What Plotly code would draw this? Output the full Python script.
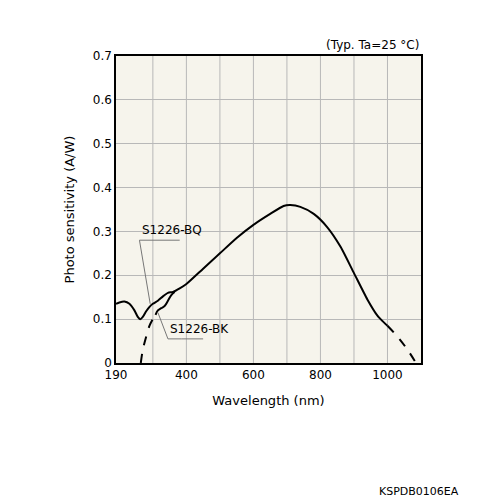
import plotly.graph_objects as go

# S1226-BQ (solid)
bq_x = [190, 200, 215, 230, 245, 255, 262, 270, 280, 290, 300, 315, 330, 345, 360, 380, 400, 450, 500, 550, 600, 650, 690, 710, 740, 780, 820, 860, 900, 940, 970, 990, 1000]
bq_y = [0.135, 0.138, 0.14, 0.135, 0.12, 0.105, 0.10, 0.105, 0.118, 0.128, 0.135, 0.142, 0.152, 0.16, 0.162, 0.17, 0.18, 0.215, 0.25, 0.285, 0.315, 0.34, 0.358, 0.36, 0.356, 0.34, 0.31, 0.265, 0.205, 0.145, 0.108, 0.092, 0.085]
# dashed tail
tail_x = [1000, 1030, 1060, 1085]
tail_y = [0.085, 0.06, 0.03, 0.0]
# S1226-BK
bk_dash_x = [264, 270, 280, 290, 300, 308]
bk_dash_y = [0.0, 0.03, 0.06, 0.085, 0.10, 0.11]
bk_x = [308, 315, 325, 335, 345, 355, 365]
bk_y = [0.11, 0.12, 0.125, 0.13, 0.142, 0.155, 0.162]

fig = go.Figure()
line = dict(color="black", width=2)
fig.add_trace(go.Scatter(x=bq_x, y=bq_y, mode="lines", line=dict(line, shape="spline", smoothing=0.6)))
fig.add_trace(go.Scatter(x=tail_x, y=tail_y, mode="lines", line=dict(line, dash="dash", shape="spline")))
fig.add_trace(go.Scatter(x=bk_dash_x, y=bk_dash_y, mode="lines", line=dict(line, dash="dash", shape="spline")))
fig.add_trace(go.Scatter(x=bk_x, y=bk_y, mode="lines", line=dict(line, shape="spline")))

# leader lines
fig.add_trace(go.Scatter(x=[380, 300, 260, 292], y=[0.28, 0.28, 0.28, 0.135], mode="lines",
                         line=dict(color="#777", width=1)))
fig.add_trace(go.Scatter(x=[315, 345, 385, 450], y=[0.115, 0.055, 0.055, 0.055], mode="lines",
                         line=dict(color="#777", width=1)))

f = dict(family="Verdana, DejaVu Sans", size=12, color="black")
fig.add_annotation(x=262, y=0.282, text="S1226-BQ", showarrow=False, xanchor="left", yanchor="bottom", font=f)
fig.add_annotation(x=345, y=0.058, text="S1226-BK", showarrow=False, xanchor="left", yanchor="bottom", font=f)
fig.add_annotation(x=1, y=1.005, xref="paper", yref="paper", text="(Typ. Ta=25 °C)", showarrow=False,
                   xanchor="right", yanchor="bottom", font=f)
fig.add_annotation(x=1.13, y=-0.42, xref="paper", yref="paper", text="KSPDB0106EA", showarrow=False,
                   xanchor="right", yanchor="middle", font=dict(f, size=11))

fig.update_xaxes(range=[190, 1100], tickvals=[190, 400, 600, 800, 1000], showgrid=False,
                 showline=True, linecolor="black", linewidth=1.5, mirror=True, ticks="", tickfont=f,
                 title=dict(text="Wavelength (nm)", font=dict(f, size=13)), automargin=False)
fig.update_yaxes(range=[0, 0.7], dtick=0.1, tickformat="~g", gridcolor="#b8b8b8", gridwidth=1,
                 showline=True, linecolor="black", linewidth=1.5, mirror=True, ticks="", tickfont=f,
                 zeroline=False, title=dict(text="Photo sensitivity (A/W)", font=dict(f, size=13)),
                 automargin=False)
for xv in range(300, 1100, 100):
    fig.add_shape(type="line", x0=xv, x1=xv, y0=0, y1=0.7, line=dict(color="#b8b8b8", width=1), layer="below")

fig.update_layout(width=500, height=500, showlegend=False, plot_bgcolor="#f6f4ec", paper_bgcolor="white",
                  margin=dict(l=108, r=87, t=48, b=145))
fig.write_html("out.html")
